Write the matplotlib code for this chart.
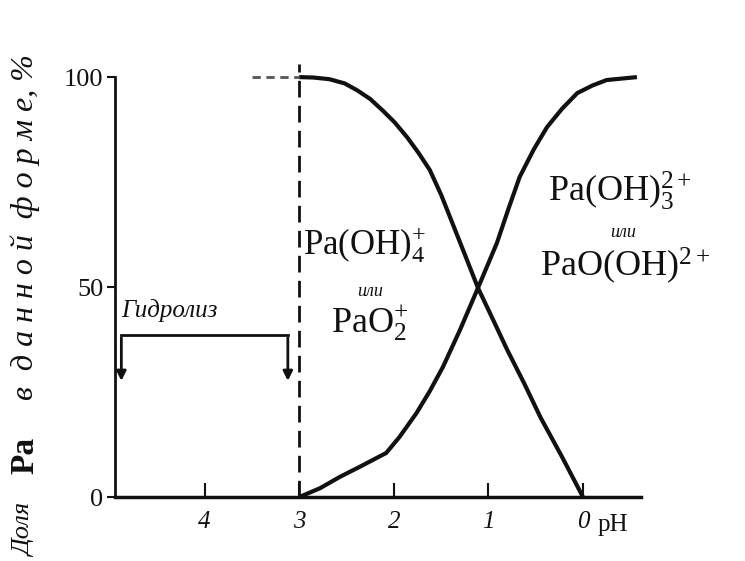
import matplotlib
matplotlib.use('Agg')
import matplotlib.pyplot as plt

plt.rcParams['mathtext.fontset'] = 'custom'
plt.rcParams['mathtext.rm'] = 'Liberation Serif'
plt.rcParams['mathtext.it'] = 'Liberation Serif:italic'

# pH values (axis runs from high pH on the left to low pH on the right)
ph_a = [3.0, 2.85, 2.68, 2.52, 2.39, 2.25, 2.12, 1.99, 1.86, 1.74, 1.62, 1.50, 1.38, 1.25,
        1.11, 0.95, 0.80, 0.62, 0.45, 0.22, 0.0]
share_a = [100, 99.9, 99.5, 98.5, 96.9, 94.8, 92.1, 89.2, 85.7, 82.0, 77.9, 72.0, 65.2, 57.8,
           49.8, 42.2, 35.0, 27.0, 19.0, 9.5, 0]

ph_b = [3.0, 2.78, 2.57, 2.36, 2.08, 1.94, 1.76, 1.62, 1.48, 1.30, 1.11, 0.91, 0.79, 0.67,
        0.52, 0.38, 0.22, 0.06, -0.10, -0.25, -0.57]
share_b = [0, 2.1, 4.8, 7.2, 10.5, 14.3, 20.0, 25.2, 31.0, 39.8, 49.8, 60.5, 68.5, 76.2,
           82.8, 88.1, 92.5, 96.2, 98.0, 99.3, 100]

x_ticks = [4, 3, 2, 1, 0]
y_ticks = [0, 50, 100]
y_tick_labels = ['0', '50', '100']

ink = '#111111'
serif = 'Liberation Serif'

fig = plt.figure(figsize=(7.45, 5.61), dpi=100)
ax = fig.add_axes([0.154, 0.114, 0.706, 0.786])

ax.plot(ph_a, share_a, color=ink, lw=3, clip_on=False, solid_capstyle='butt')
ax.plot(ph_b, share_b, color=ink, lw=3, clip_on=False, solid_capstyle='butt')

# dashed boundary at pH 3
ax.plot([3, 3], [0, 103], color=ink, lw=2, ls=(0, (6, 3)), clip_on=False)
ax.plot([3.5, 3.0], [100, 100], color='#555555', lw=2, ls=(0, (3, 2)), clip_on=False)

ax.set_xlim(4.95, -0.61)
ax.set_ylim(0, 105)

for side in ['top', 'right']:
    ax.spines[side].set_visible(False)
ax.spines['left'].set_bounds(0, 100)
ax.spines['left'].set_linewidth(2)
ax.spines['bottom'].set_linewidth(2.5)
ax.spines['left'].set_color(ink)
ax.spines['bottom'].set_color(ink)

ax.set_xticks(x_ticks)
ax.set_xticklabels([str(t) for t in x_ticks], fontfamily=serif, fontstyle='italic', fontsize=18)
ax.set_yticks(y_ticks)
ax.set_yticklabels(y_tick_labels, fontfamily=serif, fontsize=19)
ax.tick_params(axis='x', direction='in', length=10, width=1.5, pad=10, colors=ink)
ax.tick_params(axis='y', direction='out', length=6, width=1.5, pad=2, colors=ink)

ax.text(-0.32, -4.0, 'pH', fontfamily=serif, fontsize=18, va='top', ha='center', color=ink)

# species labels
ax.text(2.31, 60, r'Pa(OH)$_4^{+}$', fontfamily=serif, fontsize=25, ha='center', va='center', color=ink)
ax.text(2.25, 49, 'или', fontfamily=serif, fontstyle='italic', fontsize=13, ha='center', va='center', color=ink)
ax.text(2.25, 41.5, r'PaO$_2^{+}$', fontfamily=serif, fontsize=26, ha='center', va='center', color=ink, clip_on=False)

ax.text(-0.39, 73, r'Pa(OH)$_3^{2+}$', fontfamily=serif, fontsize=26, ha='center', va='center', color=ink, clip_on=False)
ax.text(-0.42, 63, 'или', fontfamily=serif, fontstyle='italic', fontsize=13, ha='center', va='center', color=ink, clip_on=False)
ax.text(-0.44, 55, r'PaO(OH)$^{2+}$', fontfamily=serif, fontsize=26, ha='center', va='center', color=ink, clip_on=False)

# hydrolysis bracket
ax.text(4.88, 44.5, 'Гидролиз', fontfamily=serif, fontstyle='italic', fontsize=18, ha='left', va='center', color=ink)
ax.plot([4.88, 3.12], [38.6, 38.6], color=ink, lw=2)
ax.annotate('', xy=(4.88, 27), xytext=(4.88, 38.6),
            arrowprops=dict(arrowstyle='-|>', lw=2, color=ink, mutation_scale=14))
ax.annotate('', xy=(3.12, 27), xytext=(3.12, 38.6),
            arrowprops=dict(arrowstyle='-|>', lw=2, color=ink, mutation_scale=14))

# y axis title in three pieces
fig.text(0.034, 0.055, 'Доля', rotation=90, fontfamily=serif, fontstyle='italic', fontsize=19, ha='center', va='center', color=ink)
fig.text(0.034, 0.189, 'Pa', rotation=90, fontfamily=serif, fontweight='bold', fontsize=24, ha='center', va='center', color=ink)
fig.text(0.034, 0.595, 'в  д а н н о й  ф о р м е, %', rotation=90, fontfamily=serif, fontstyle='italic', fontsize=23, ha='center', va='center', color=ink)

fig.savefig('out.png', dpi=100)
